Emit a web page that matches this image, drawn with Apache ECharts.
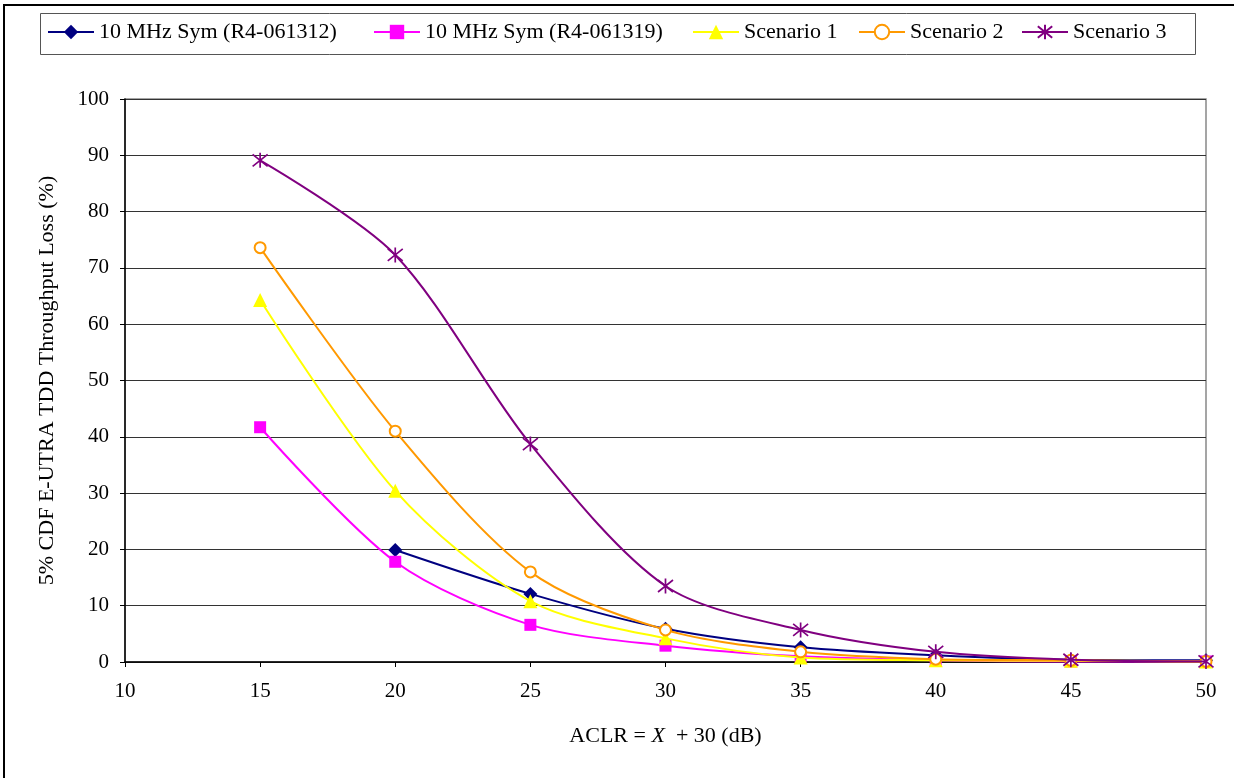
<!DOCTYPE html>
<html>
<head>
<meta charset="utf-8">
<script src="https://cdn.jsdelivr.net/npm/echarts@6/dist/echarts.min.js"></script>
<style>
html,body{margin:0;padding:0;background:#fff;}
#c{width:1234px;height:778px;}
</style>
</head>
<body>
<div id="c"></div>
<script>
var aclr = [15, 20, 25, 30, 35, 40, 45, 50];
var seriesNames = ['10 MHz Sym (R4-061312)', '10 MHz Sym (R4-061319)', 'Scenario 1', 'Scenario 2', 'Scenario 3'];
var sym061312 = [null, 19.9, 12.1, 5.9, 2.6, 1.2, 0.4, 0.3];
var sym061319 = [41.7, 17.8, 6.6, 2.9, 1.0, 0.3, 0.1, 0.1];
var scenario1 = [64.3, 30.4, 10.8, 4.2, 0.8, 0.3, 0.2, 0.1];
var scenario2 = [73.6, 41.0, 16.0, 5.7, 1.8, 0.5, 0.3, 0.1];
var scenario3 = [89.1, 72.3, 38.7, 13.5, 5.7, 1.8, 0.4, 0.1];
var xTicks = [10, 15, 20, 25, 30, 35, 40, 45, 50];
var yTicks = [0, 10, 20, 30, 40, 50, 60, 70, 80, 90, 100];

var font = '"Liberation Serif", "Times New Roman", serif';
var asterisk = 'path://M0,-10L0,10M-8,-8L8,8M8,-8L-8,8';

function pairs(arr) {
  var out = [];
  for (var i = 0; i < aclr.length; i++) {
    if (arr[i] !== null) out.push([aclr[i], arr[i]]);
  }
  return out;
}

var styles = [
  {color: '#000080', symbol: 'diamond', size: 14},
  {color: '#FF00FF', symbol: 'rect', size: 12},
  {color: '#FFFF00', symbol: 'triangle', size: 14},
  {color: '#FF9900', symbol: 'emptyCircle', size: 11},
  {color: '#800080', symbol: asterisk, size: 15}
];
var datas = [sym061312, sym061319, scenario1, scenario2, scenario3];

var series = datas.map(function (d, i) {
  var s = styles[i];
  var item = {color: s.color};
  if (i === 3 || i === 4) { item = {color: s.color, borderColor: s.color, borderWidth: 1.7}; }
  return {
    name: seriesNames[i],
    type: 'line',
    data: pairs(d),
    smooth: 0.3,
    symbol: s.symbol,
    symbolSize: s.size,
    showAllSymbol: true,
    lineStyle: {color: s.color, width: 2},
    itemStyle: item,
    emphasis: {disabled: true},
    z: 2 + i
  };
});

var legendLefts = [47, 373, 692, 858, 1021];
var legends = seriesNames.map(function (n, i) {
  return {
    data: [n],
    left: legendLefts[i],
    top: 20,
    padding: 0,
    itemWidth: 46,
    itemHeight: 18,
    textStyle: {fontFamily: font, fontSize: 22, color: '#000', lineHeight: 24},
    selectedMode: false
  };
});

var chart = echarts.init(document.getElementById('c'), null, {renderer: 'canvas'});
chart.setOption({
  animation: false,
  backgroundColor: '#fff',
  graphic: [{
    type: 'rect',
    shape: {x: 4, y: 5, width: 1250, height: 800},
    style: {fill: 'none', stroke: '#000', lineWidth: 2},
    silent: true
  }, {
    type: 'rect',
    shape: {x: 40.5, y: 13.5, width: 1155, height: 41},
    style: {fill: 'none', stroke: '#555', lineWidth: 1},
    silent: true
  }],
  legend: legends,
  grid: {
    left: 125, right: 28, top: 99, bottom: 116,
    show: true, borderColor: '#888', borderWidth: 1.5, backgroundColor: 'transparent'
  },
  xAxis: {
    type: 'value',
    min: 10, max: 50, interval: 5,
    name: '{a|ACLR = }{i|X}{a|  + 30 (dB)}',
    nameLocation: 'middle',
    nameGap: 63,
    nameTextStyle: {
      rich: {
        a: {fontFamily: font, fontSize: 22, color: '#000'},
        i: {fontFamily: font, fontSize: 22, color: '#000', fontStyle: 'italic'}
      }
    },
    axisLine: {show: true, onZero: false, lineStyle: {color: '#000', width: 1.5}},
    axisTick: {show: true, inside: false, length: 5, lineStyle: {color: '#000'}},
    axisLabel: {fontFamily: font, fontSize: 21, color: '#000', margin: 19},
    splitLine: {show: false}
  },
  yAxis: {
    type: 'value',
    min: 0, max: 100, interval: 10,
    name: '5% CDF E-UTRA TDD Throughput Loss (%)',
    nameLocation: 'middle',
    nameGap: 67,
    nameTextStyle: {fontFamily: font, fontSize: 22, color: '#000'},
    axisLine: {show: true, lineStyle: {color: '#000', width: 1.5}},
    axisTick: {show: true, inside: false, length: 5, lineStyle: {color: '#000'}},
    axisLabel: {fontFamily: font, fontSize: 21, color: '#000', margin: 16},
    splitLine: {show: true, lineStyle: {color: '#333', width: 1.2}}
  },
  series: series
});
</script>
</body>
</html>
